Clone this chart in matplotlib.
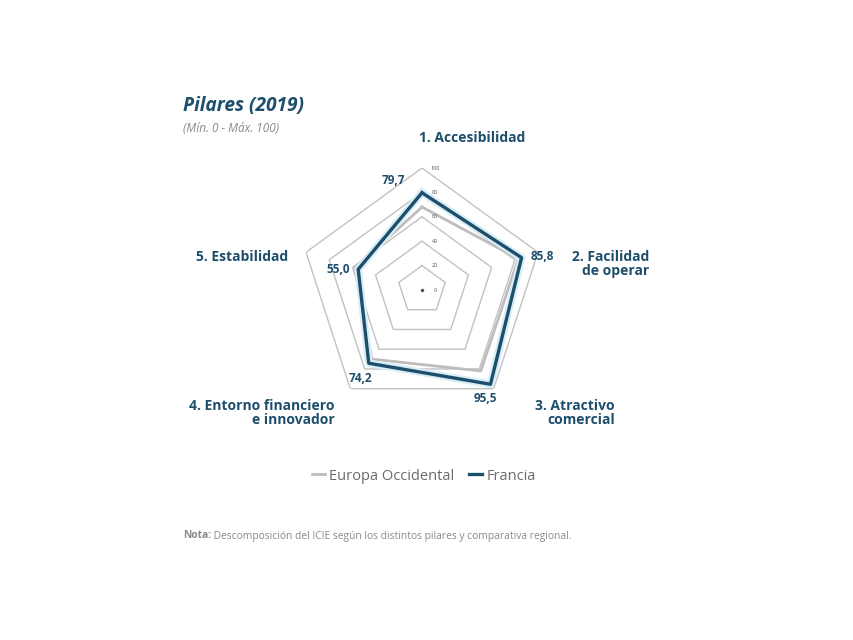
import numpy as np
import matplotlib
matplotlib.use('Agg')
import matplotlib.pyplot as plt

plt.rcParams['font.family'] = ['Open Sans', 'DejaVu Sans']

categories = ['1. Accesibilidad', '2. Facilidad\nde operar', '3. Atractivo\ncomercial',
              '4. Entorno financiero\ne innovador', '5. Estabilidad']
europa = [68, 83, 82, 70, 58]
francia = [79.7, 85.8, 95.5, 74.2, 55.0]
francia_labels = ['79,7', '85,8', '95,5', '74,2', '55,0']
grid_levels = [20, 40, 60, 80, 100]

DARK = '#1d4e6b'
GRAY_LINE = '#bdbdbd'
GRID = '#c2c2c2'
TEXT_GRAY = '#6b6b6b'

W, H = 854, 640
fig = plt.figure(figsize=(W / 100, H / 100), dpi=100)
fig.patch.set_facecolor('white')


def fx(x):
    return x / W


def fy(y):
    return 1 - y / H


# radar area: centre (422, 290), radius 122 px
cx, cy, rad = 422, 290, 122
ax = fig.add_axes([fx(cx - rad), fy(cy + rad), 2 * rad / W, 2 * rad / H], polar=True)
ax.set_theta_offset(np.pi / 2)
ax.set_theta_direction(-1)
ax.set_ylim(0, 100)
ax.axis('off')

n = len(categories)
angles = np.linspace(0, 2 * np.pi, n, endpoint=False)
closed = np.append(angles, angles[0])

for lvl in grid_levels:
    ax.plot(closed, [lvl] * (n + 1), color=GRID, lw=1.0, zorder=1)

e_vals = europa + europa[:1]
f_vals = francia + francia[:1]
ax.plot(closed, e_vals, color=GRAY_LINE, lw=2.0, zorder=3, label='Europa Occidental')
ax.plot(closed, f_vals, color='#d8edf6', lw=5.5, zorder=4, label='_nolegend_')
ax.plot(closed, f_vals, color=DARK, lw=2.4, zorder=5, label='Francia')

# centre dot and radial tick labels
ax.plot([0], [0], marker='o', ms=1.5, color='#555555', zorder=6)
for lvl in [0] + grid_levels:
    ax.annotate(str(lvl), xy=(0, lvl), xytext=(13, 0), textcoords='offset pixels',
                ha='center', va='center', fontsize=4, color='#555555')

# value labels for Francia
offsets = [(-29, 12), (21, 1), (-5, -14), (-8, -15), (-20, 0)]
for a, v, lab, off in zip(angles, francia, francia_labels, offsets):
    ax.annotate(lab, xy=(a, v), xytext=off, textcoords='offset pixels',
                ha='center', va='center', fontsize=8.5, fontweight='bold', color=DARK)

# category labels
fig.text(fx(472), fy(138), categories[0], ha='center', va='center',
         fontsize=10, fontweight='bold', color=DARK)
fig.text(fx(649), fy(264), categories[1], ha='right', va='center', multialignment='right',
         fontsize=10, fontweight='bold', color=DARK, linespacing=1.0)
fig.text(fx(615), fy(413), categories[2], ha='right', va='center', multialignment='right',
         fontsize=10, fontweight='bold', color=DARK, linespacing=1.0)
fig.text(fx(335), fy(413), categories[3], ha='right', va='center', multialignment='right',
         fontsize=10, fontweight='bold', color=DARK, linespacing=1.0)
fig.text(fx(288), fy(257), categories[4], ha='right', va='center',
         fontsize=10, fontweight='bold', color=DARK)

# title
fig.text(fx(183), fy(106), 'Pilares (2019)', ha='left', va='center',
         fontsize=13.8, fontweight='bold', fontstyle='italic', color=DARK)
fig.text(fx(183), fy(128), '(Mín. 0 - Máx. 100)', ha='left', va='center',
         fontsize=8.5, fontstyle='italic', color='#8a8a8a')

# legend
fig.legend(loc='center', bbox_to_anchor=(fx(424), fy(476)), ncol=2, frameon=False,
           handlelength=0.9, handletextpad=0.3, columnspacing=1.0,
           prop={'size': 10.5}, labelcolor=TEXT_GRAY)

# note
t1 = fig.text(fx(183), fy(536), 'Nota:', ha='left', va='center',
              fontsize=7.4, fontweight='bold', color='#8a8a8a')
ax.annotate(' Descomposición del ICIE según los distintos pilares y comparativa regional.',
            xy=(1, 0.5), xycoords=t1, ha='left', va='center',
            fontsize=7.4, color='#8a8a8a', annotation_clip=False)

fig.savefig('out.png', dpi=100, facecolor='white')
